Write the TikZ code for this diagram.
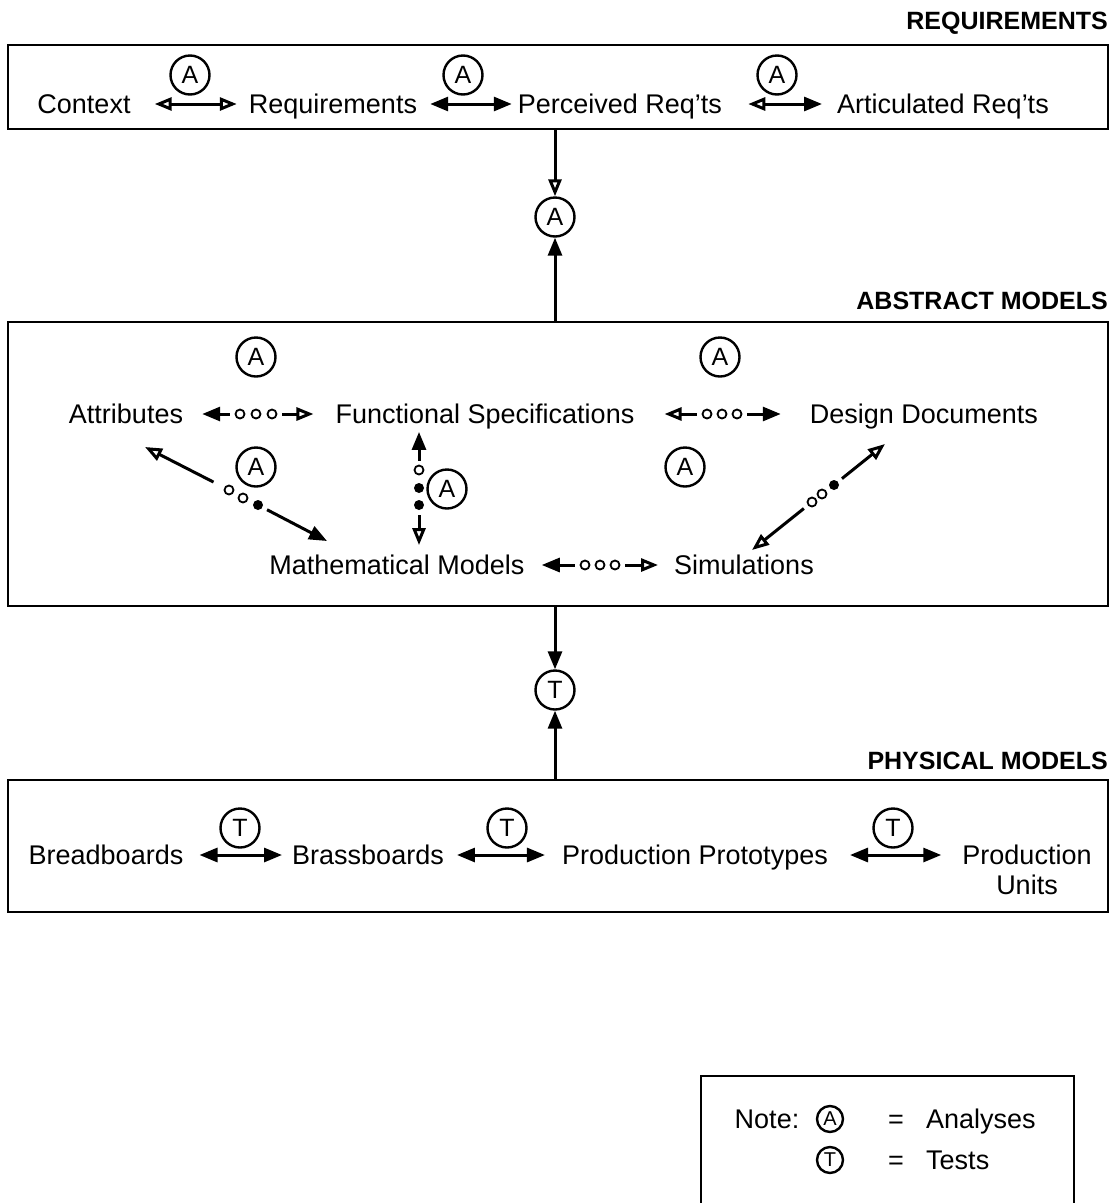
\documentclass[tikz,border=0pt]{standalone}
\usepackage{fontspec}
\setmainfont{Liberation Sans}
\usetikzlibrary{arrows.meta,calc}
\begin{document}
\begin{tikzpicture}[x=1pt,y=-1pt,
  lbl/.style={inner sep=0pt, font=\fontsize{27}{32}\selectfont, text height=19.5pt, text depth=0pt},
  ttl/.style={inner sep=0pt, anchor=east, font=\fontsize{25}{30}\selectfont\bfseries, text height=18pt, text depth=0pt},
  circ/.style={circle, draw, line width=2.4pt, minimum size=39pt, inner sep=0pt, font=\fontsize{25}{28}\selectfont},
  smallcirc/.style={circle, draw, line width=2.4pt, minimum size=26pt, inner sep=0pt, font=\fontsize{20}{22}\selectfont},
  box/.style={draw, line width=2.2pt, inner sep=0pt},
  frame/.style={draw, line width=2.2pt},
  link/.style={line width=3pt},
  bothO/.style={{Triangle[open,length=17pt,width=13pt]}-{Triangle[open,length=17pt,width=13pt]}},
  bothS/.style={{Triangle[length=18pt,width=14pt]}-{Triangle[length=18pt,width=14pt]}},
  oS/.style={{Triangle[open,length=17pt,width=13pt]}-{Triangle[length=18pt,width=14pt]}},
  toO/.style={-{Triangle[open,length=17pt,width=13pt]}},
  toS/.style={-{Triangle[length=18pt,width=14pt]}},
  odot/.style={circle, draw, line width=1.8pt, minimum size=9pt, inner sep=0pt, fill=white},
  sdot/.style={circle, fill=black, minimum size=10pt, inner sep=0pt}
]
\useasboundingbox (0,0) rectangle (1113,1203);

% ---------- REQUIREMENTS ----------
\node[ttl] (t1) at (1108,20) {REQUIREMENTS};
\node[box, minimum width=1100pt, minimum height=84pt] (box1) at (558,87) {};
\node[lbl] (ctx) at (84,104) {Context};
\node[lbl] (req) at (333,104) {Requirements};
\node[lbl] (perc) at (620,104) {Perceived Req'ts};
\node[lbl] (art) at (943,104) {Articulated Req'ts};
\node[circ] (a1) at (190,75) {A};
\node[circ] (a2) at (463,75) {A};
\node[circ] (a3) at (777,75) {A};
\draw[link, bothO, shorten <=24pt, shorten >=12pt] (ctx) -- (req);
\draw[link, bothS, shorten <=13pt, shorten >=6pt] (req) -- (perc);
\draw[link, oS, shorten <=26pt, shorten >=15pt] (perc) -- (art);

% ---------- link to abstract ----------
\node[circ] (aup) at (555,217) {A};
\node[box, minimum width=1100pt, minimum height=284pt] (box2) at (558,464) {};
\draw[link,toO] (box1.south -| aup) -- (aup);
\draw[link,toS] (box2.north -| aup) -- (aup);

% ---------- ABSTRACT MODELS ----------
\node[ttl] (t2) at (1108,300) {ABSTRACT MODELS};
\node[lbl] (attr) at (126,414) {Attributes};
\node[lbl] (func) at (485,414) {Functional Specifications};
\node[lbl] (des) at (924,414) {Design Documents};
\node[lbl] (math) at (397,565) {Mathematical Models};
\node[lbl] (sim) at (744,565) {Simulations};
\node[circ] (a4) at (256,357) {A};
\node[circ] (a5) at (720,357) {A};
\node[circ] (a6) at (256,467) {A};
\node[circ] (a7) at (447,489) {A};
\node[circ] (a8) at (685,467) {A};

% Attributes <-> Functional
\node[odot] (af1) at (240,414) {};
\node[odot] (af2) at (256,414) {};
\node[odot] (af3) at (272,414) {};
\draw[link,toS,shorten <=5pt,shorten >=19pt] (af1) -- (attr);
\draw[link,toO,shorten <=5pt,shorten >=22pt] (af3) -- (func);

% Functional <-> Design
\node[odot] (fd1) at (707,414) {};
\node[odot] (fd2) at (722,414) {};
\node[odot] (fd3) at (737,414) {};
\draw[link,toO,shorten <=5pt,shorten >=30pt] (fd1) -- (func);
\draw[link,toS,shorten <=5pt,shorten >=29pt] (fd3) -- (des);

% Mathematical <-> Simulations
\node[odot] (ms1) at (585,565) {};
\node[odot] (ms2) at (600,565) {};
\node[odot] (ms3) at (615,565) {};
\draw[link,toS,shorten <=5pt,shorten >=17pt] (ms1) -- (math);
\draw[link,toO,shorten <=5pt,shorten >=16pt] (ms3) -- (sim);

% Functional <-> Mathematical (vertical)
\node[odot] (v1) at (419,470) {};
\node[sdot] (v2) at (419,488) {};
\node[sdot] (v3) at (419,505) {};
\draw[link,toS,shorten <=4pt,shorten >=8pt] (v1) -- (v1 |- func.south);
\draw[link,toO,shorten <=5pt,shorten >=10pt] (v3) -- (v3 |- math.north);

% Attributes <-> Mathematical (diagonal)
\coordinate (attrTip) at (145,447);
\coordinate (mathTip) at (327,541);
\node[odot] (l1) at (229,490) {};
\node[odot] (l2) at (243,498) {};
\node[sdot] (l3) at (258,505) {};
\draw[link,toO,shorten <=12pt] (l1) -- (attrTip);
\draw[link,toS,shorten <=5pt] (l3) -- (mathTip);

% Design <-> Simulations (diagonal)
\coordinate (desTip) at (885,444);
\coordinate (simTip) at (752,550);
\node[odot] (r1) at (812,502) {};
\node[odot] (r2) at (822,494) {};
\node[sdot] (r3) at (834,485) {};
\draw[link,toO,shorten <=5pt] (r3) -- (desTip);
\draw[link,toO,shorten <=5pt] (r1) -- (simTip);

% ---------- link to physical ----------
\node[circ] (tc) at (555,690) {T};
\node[box, minimum width=1100pt, minimum height=132pt] (box3) at (558,846) {};
\draw[link,toS] (box2.south -| tc) -- (tc);
\draw[link,toS] (box3.north -| tc) -- (tc);

% ---------- PHYSICAL MODELS ----------
\node[ttl] (t3) at (1108,760) {PHYSICAL MODELS};
\node[lbl] (bread) at (106,855) {Breadboards};
\node[lbl] (brass) at (368,855) {Brassboards};
\node[lbl] (proto) at (695,855) {Production Prototypes};
\node[lbl] (produ) at (1027,855) {Production};
\node[lbl] (units) at (1027,885) {Units};
\node[circ] (t4) at (240,828) {T};
\node[circ] (t5) at (507,828) {T};
\node[circ] (t6) at (893,828) {T};
\draw[link, bothS, shorten <=16pt, shorten >=10pt] (bread) -- (brass);
\draw[link, bothS, shorten <=13pt, shorten >=17pt] (brass) -- (proto);
\draw[link, bothS, shorten <=22pt, shorten >=21pt] (proto) -- (produ);

% ---------- Note ----------
\draw[frame] (701,1204) -- (701,1076) -- (1074,1076) -- (1074,1204);
\node[lbl] (note) at (767,1119) {Note:};
\node[smallcirc] (na) at (830,1119) {A};
\node[lbl] (eq1) at (896,1119) {=};
\node[lbl, anchor=west] (an) at (926,1119) {Analyses};
\node[smallcirc] (nt) at (830,1160) {T};
\node[lbl] (eq2) at (896,1160) {=};
\node[lbl, anchor=west] (ts) at (926,1160) {Tests};
\end{tikzpicture}
\end{document}
